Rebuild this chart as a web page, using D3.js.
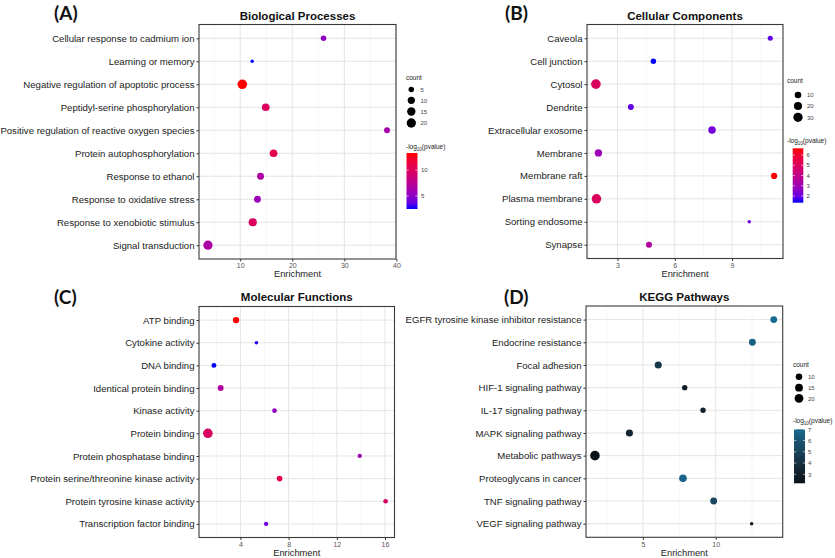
<!DOCTYPE html>
<html><head><meta charset="utf-8">
<script src="https://cdn.jsdelivr.net/npm/d3@7/dist/d3.min.js"></script>
<style>body{margin:0;background:#fff}svg{display:block}</style>
</head><body>
<svg id="c" width="835" height="558"></svg>
<script>
// ---------- DATA ----------
const bpTerms = ["Cellular response to cadmium ion","Learning or memory","Negative regulation of apoptotic process","Peptidyl-serine phosphorylation","Positive regulation of reactive oxygen species","Protein autophosphorylation","Response to ethanol","Response to oxidative stress","Response to xenobiotic stimulus","Signal transduction"];
const bpEnrich = [26.0, 12.3, 10.4, 14.9, 38.2, 16.4, 13.9, 13.3, 12.4, 3.8];
const bpCount  = [5, 3, 22, 12, 6, 12, 9, 9, 14, 20];
const bpLogP   = [5.2, 2.5, 13.3, 10.0, 6.3, 10.6, 6.6, 5.7, 9.8, 6.6];
const bpTicks = [10, 20, 30, 40];
const bpSizeBreaks = [5, 10, 15, 20];
const bpColorBreaks = [5, 10];

const ccTerms = ["Caveola","Cell junction","Cytosol","Dendrite","Extracellular exosome","Membrane","Membrane raft","Plasma membrane","Sorting endosome","Synapse"];
const ccEnrich = [11.0, 4.88, 1.87, 3.7, 7.95, 2.0, 11.2, 1.9, 9.9, 4.65];
const ccCount  = [4, 5, 33, 7, 15, 14, 8, 32, 2, 7];
const ccLogP   = [1.9, 1.35, 5.0, 1.9, 2.15, 2.95, 6.65, 5.0, 2.0, 3.5];
const ccTicks = [3, 6, 9];
const ccSizeBreaks = [10, 20, 30];
const ccColorBreaks = [2, 3, 4, 5, 6];

const mfTerms = ["ATP binding","Cytokine activity","DNA binding","Identical protein binding","Kinase activity","Protein binding","Protein phosphatase binding","Protein serine/threonine kinase activity","Protein tyrosine kinase activity","Transcription factor binding"];
const mfEnrich = [3.64, 5.33, 1.8, 2.36, 6.83, 1.3, 13.9, 7.25, 16.05, 6.13];
const mfCount  = [16, 3, 6, 12, 5, 60, 4, 10, 5, 4];
const mfLogP   = [20, 2.2, 2.0, 9, 6.5, 14, 7.5, 16, 14, 4.5];
const mfTicks = [4, 8, 12, 16];

const kgTerms = ["EGFR tyrosine kinase inhibitor resistance","Endocrine resistance","Focal adhesion","HIF-1 signaling pathway","IL-17 signaling pathway","MAPK signaling pathway","Metabolic pathways","Proteoglycans in cancer","TNF signaling pathway","VEGF signaling pathway"];
const kgEnrich = [13.99, 12.52, 6.05, 7.87, 9.13, 4.07, 1.7, 7.75, 9.86, 12.47];
const kgCount  = [11, 11, 12, 7, 7, 12, 25, 14, 11, 5];
const kgLogP   = [7.0, 6.6, 4.3, 3.0, 3.1, 3.3, 2.2, 6.7, 5.3, 2.6];
const kgTicks = [5, 10];
const kgSizeBreaks = [10, 15, 20];
const kgColorBreaks = [3, 4, 5, 6, 7];

// ---------- DRAW ----------
const svg = d3.select("#c");
const defs = svg.append("defs");
const FONT = "Liberation Sans, Arial, sans-serif";

const panels = [
  {id:"A", title:"Biological Processes", terms:bpTerms, enrich:bpEnrich, count:bpCount, logp:bpLogP, ticks:bpTicks,
   sizeBreaks:bpSizeBreaks, colorBreaks:bpColorBreaks, colors:["blue","red"],
   box:{l:199,r:396,t:24.5,b:259}, titleY:19.5, letterX:54, letterY:20, xlabY:276.5,
   leg:{x:406, countY:80, dotX:411.3, dotY:[89.5,100.3,111.5,123], labX:420.5, cbTitleY:149, cb:{x:406.5,w:11,t:153,b:209}, cbLabX:421}},
  {id:"B", title:"Cellular Components", terms:ccTerms, enrich:ccEnrich, count:ccCount, logp:ccLogP, ticks:ccTicks,
   sizeBreaks:ccSizeBreaks, colorBreaks:ccColorBreaks, colors:["blue","red"],
   box:{l:587,r:783,t:24.5,b:258.5}, titleY:19.5, letterX:505, letterY:20, xlabY:276.5,
   leg:{x:787, countY:83, dotX:798, dotY:[95,106,117.3], labX:807, cbTitleY:143, cb:{x:792.7,w:10.6,t:148.3,b:202.7}, cbLabX:806.5}},
  {id:"C", title:"Molecular Functions", terms:mfTerms, enrich:mfEnrich, count:mfCount, logp:mfLogP, ticks:mfTicks,
   sizeBreaks:null, colorBreaks:null, colors:["blue","red"],
   box:{l:199,r:394.5,t:306.5,b:537.5}, titleY:301, letterX:54, letterY:304, xlabY:556},
  {id:"D", title:"KEGG Pathways", terms:kgTerms, enrich:kgEnrich, count:kgCount, logp:kgLogP, ticks:kgTicks,
   sizeBreaks:kgSizeBreaks, colorBreaks:kgColorBreaks, colors:["#0b1218","#17698f"],
   box:{l:586,r:782.7,t:306,b:537.3}, titleY:301, letterX:504, letterY:304, xlabY:556,
   leg:{x:793, countY:367, dotX:799, dotY:[376.7,387.7,398.3], labX:808, cbTitleY:423, cb:{x:794,w:11,t:429.3,b:483.3}, cbLabX:808}}
];

const DMIN = 3.5, DMAX = 9.6;

panels.forEach(p => {
  const g = svg.append("g");
  const b = p.box;
  const ext = d3.extent(p.enrich);
  const pad = (ext[1]-ext[0])*0.05;
  const x = d3.scaleLinear().domain([ext[0]-pad, ext[1]+pad]).range([b.l, b.r]);
  const y = d3.scalePoint().domain(p.terms).range([b.t, b.b]).padding(0.6);
  const cExt = d3.extent(p.count);
  const tScale = d3.scaleLinear().domain(cExt).range([0,1]);
  const dScale = d3.scaleSqrt().domain([0,1]).range([DMIN, DMAX]);
  const rad = c => dScale(Math.max(0, tScale(c)))/2;
  const lExt = d3.extent(p.logp);
  const col = d3.scaleLinear().domain(lExt).range(p.colors).interpolate(d3.interpolateLab);

  // panel background
  g.append("rect").attr("x",b.l).attr("y",b.t).attr("width",b.r-b.l).attr("height",b.b-b.t).attr("fill","#fff");
  // minor grid
  const step = p.ticks[1]-p.ticks[0];
  const minors = [];
  for (let v = p.ticks[0]-step/2; v <= x.domain()[1]; v += step) if (v >= x.domain()[0]) minors.push(v);
  g.selectAll(".mn").data(minors).join("line")
    .attr("x1",d=>x(d)).attr("x2",d=>x(d)).attr("y1",b.t).attr("y2",b.b)
    .attr("stroke","#f1f1f1").attr("stroke-width",0.6);
  g.selectAll(".mj").data(p.ticks).join("line")
    .attr("x1",d=>x(d)).attr("x2",d=>x(d)).attr("y1",b.t).attr("y2",b.b)
    .attr("stroke","#e4e4e4").attr("stroke-width",1);
  g.selectAll(".hj").data(p.terms).join("line")
    .attr("x1",b.l).attr("x2",b.r).attr("y1",d=>y(d)).attr("y2",d=>y(d))
    .attr("stroke","#e4e4e4").attr("stroke-width",1);

  // points
  const idx = d3.range(p.terms.length);
  g.selectAll(".pt").data(idx).join("circle")
    .attr("cx",i=>x(p.enrich[i])).attr("cy",i=>y(p.terms[i]))
    .attr("r",i=>rad(p.count[i])).attr("fill",i=>col(p.logp[i]));

  // border
  g.append("rect").attr("x",b.l).attr("y",b.t).attr("width",b.r-b.l).attr("height",b.b-b.t)
    .attr("fill","none").attr("stroke","#3a3a3a").attr("stroke-width",1.1);

  // axes
  const ya = g.append("g").attr("transform",`translate(${b.l},0)`)
    .call(d3.axisLeft(y).tickSize(2.5).tickPadding(2));
  ya.select(".domain").remove();
  ya.selectAll("line").attr("stroke","#333");
  ya.selectAll("text").attr("font-family",FONT).attr("font-size",9.6).attr("fill","#222");
  const xa = g.append("g").attr("transform",`translate(0,${b.b})`)
    .call(d3.axisBottom(x).tickValues(p.ticks).tickSize(2.5).tickPadding(2).tickFormat(d3.format("d")));
  xa.select(".domain").remove();
  xa.selectAll("line").attr("stroke","#333");
  xa.selectAll("text").attr("font-family",FONT).attr("font-size",7).attr("fill","#555");

  g.append("text").attr("x",(b.l+b.r)/2).attr("y",p.xlabY).attr("text-anchor","middle")
    .attr("font-family",FONT).attr("font-size",9.3).attr("fill","#222").text("Enrichment");
  g.append("text").attr("x",(b.l+b.r)/2).attr("y",p.titleY).attr("text-anchor","middle")
    .attr("font-family",FONT).attr("font-weight","bold").attr("font-size",11.5).attr("fill","#111").text(p.title);
  g.append("text").attr("x",p.letterX).attr("y",p.letterY)
    .attr("font-family","Lato, 'Open Sans', sans-serif").attr("font-weight","bold").attr("font-size",19).attr("fill","#111").text(`(${p.id})`);

  // legends
  if (p.leg) {
    const L = p.leg;
    g.append("text").attr("x",L.x).attr("y",L.countY).attr("font-family",FONT).attr("font-size",6.5).attr("fill","#222").text("count");
    p.sizeBreaks.forEach((s,i) => {
      g.append("circle").attr("cx",L.dotX).attr("cy",L.dotY[i]).attr("r",rad(s)).attr("fill","#000");
      g.append("text").attr("x",L.labX).attr("y",L.dotY[i]+2.2).attr("font-family",FONT).attr("font-size",6).attr("fill","#444").text(s);
    });
    const tt = g.append("text").attr("x",L.x).attr("y",L.cbTitleY).attr("font-family",FONT).attr("font-size",6.5).attr("fill","#222");
    tt.append("tspan").text("-log");
    tt.append("tspan").attr("font-size",4.5).attr("dy",1.5).text("10");
    tt.append("tspan").attr("dy",-1.5).text("(pvalue)");
    const gid = "grad"+p.id;
    const gr = defs.append("linearGradient").attr("id",gid).attr("x1",0).attr("x2",0).attr("y1",1).attr("y2",0);
    d3.range(0,1.0001,0.1).forEach(t => gr.append("stop").attr("offset",t).attr("stop-color",col(lExt[0]+t*(lExt[1]-lExt[0]))));
    const cb = L.cb;
    g.append("rect").attr("x",cb.x).attr("y",cb.t).attr("width",cb.w).attr("height",cb.b-cb.t).attr("fill",`url(#${gid})`);
    const cy = d3.scaleLinear().domain(lExt).range([cb.b, cb.t]);
    p.colorBreaks.forEach(v => {
      g.append("line").attr("x1",cb.x).attr("x2",cb.x+2.2).attr("y1",cy(v)).attr("y2",cy(v)).attr("stroke","#fff").attr("stroke-width",0.6);
      g.append("line").attr("x1",cb.x+cb.w-2.2).attr("x2",cb.x+cb.w).attr("y1",cy(v)).attr("y2",cy(v)).attr("stroke","#fff").attr("stroke-width",0.6);
      g.append("text").attr("x",L.cbLabX).attr("y",cy(v)+2.2).attr("font-family",FONT).attr("font-size",6).attr("fill","#444").text(v);
    });
  }
});
</script>
</body></html>
